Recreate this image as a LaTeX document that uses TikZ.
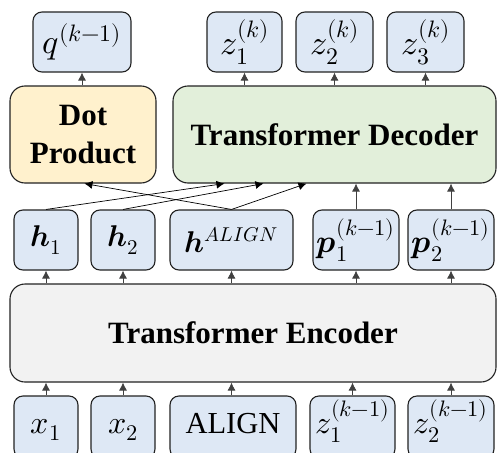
\documentclass[tikz,border=0pt]{standalone}
\usepackage{amsmath}
\usepackage{fontspec}
\usepackage{unicode-math}
\setmainfont{Liberation Serif}
\setmathfont{Latin Modern Math}
\usetikzlibrary{arrows.meta,calc}
\definecolor{bluefill}{HTML}{DEE8F5}
\definecolor{yellowfill}{HTML}{FFF1CD}
\definecolor{greenfill}{HTML}{E2EFDA}
\definecolor{grayfill}{HTML}{F2F2F2}
\definecolor{edge}{HTML}{222222}
\tikzset{
  sbox/.style={draw=edge, line width=1.1pt, rounded corners=9pt, fill=bluefill, minimum height=60pt, inner sep=0pt, font=\fontsize{32}{36}\selectfont},
  topfont/.style={font=\fontsize{34}{38}\selectfont},
  hfont/.style={font=\fontsize{30}{34}\selectfont},
  lowtext/.style={text height=26pt, text depth=14pt},
  bigbox/.style={draw=edge, line width=1.1pt, rounded corners=15pt, inner sep=0pt, font=\fontsize{31}{38}\selectfont\bfseries, align=center},
  arr/.style={draw=black!75, line width=0.8pt, -{Latex[length=8pt,width=8pt]}},
  thin/.style={draw=black, line width=0.7pt, -{Latex[length=8pt,width=8pt]}}
}
\begin{document}
\begin{tikzpicture}[x=1pt,y=-1pt]
\useasboundingbox (0,0) rectangle (497,452);
\begin{scope}
\clip (0,0) rectangle (497,452);
% top row
\node[sbox, topfont, minimum width=98pt] (q) at (82,42) {$q^{(k-1)}$};
\node[sbox, topfont, minimum width=75pt] (z1) at (244.5,42) {$z_1^{(k)}$};
\node[sbox, topfont, minimum width=77pt] (z2) at (334.5,42) {$z_2^{(k)}$};
\node[sbox, topfont, minimum width=77pt] (z3) at (425.5,42) {$z_3^{(k)}$};
% big boxes
\node[bigbox, fill=yellowfill, minimum width=146pt, minimum height=97pt] (dot) at (83,134.5) {Dot\\Product};
\node[bigbox, fill=greenfill, minimum width=323pt, minimum height=97pt] (dec) at (334.5,134.5) {Transformer Decoder};
% h row
\node[sbox, hfont, minimum width=64pt] (h1) at (46,240) {$\symbfit{h}_1$};
\node[sbox, hfont, minimum width=64pt] (h2) at (123,240) {$\symbfit{h}_2$};
\node[sbox, hfont, minimum width=123pt] (hA) at (231.5,240) {$\symbfit{h}^{\mbox{\fontsize{20}{22}\selectfont$ALIGN$}}$};
\node[sbox, minimum width=86pt] (p1) at (356,240) {$\symbfit{p}_1^{(k-1)}$};
\node[sbox, minimum width=86pt] (p2) at (451,240) {$\symbfit{p}_2^{(k-1)}$};
% encoder
\node[bigbox, fill=grayfill, minimum width=486pt, minimum height=98pt] (enc) at (253,333) {Transformer Encoder};
% bottom row
\node[sbox, lowtext, minimum width=64pt, minimum height=62pt] (x1) at (46,427) {$x_1$};
\node[sbox, lowtext, minimum width=64pt, minimum height=62pt] (x2) at (123,427) {$x_2$};
\node[sbox, lowtext, minimum width=126pt, minimum height=62pt, font=\fontsize{30.5}{34}\selectfont] (al) at (233,427) {ALIGN};
\node[sbox, lowtext, minimum width=85pt, minimum height=62pt] (zb1) at (352.5,427) {$z_1^{(k-1)}$};
\node[sbox, lowtext, minimum width=86pt, minimum height=62pt] (zb2) at (451,427) {$z_2^{(k-1)}$};
\end{scope}
% arrows top
\draw[arr] (dot.north -| q.south) -- (q.south);
\draw[arr] (z1.south |- dec.north) -- (z1.south);
\draw[arr] (z2.south |- dec.north) -- (z2.south);
\draw[arr] (z3.south |- dec.north) -- (z3.south);
% encoder to h row
\draw[arr] (h1.south |- enc.north) -- (h1.south);
\draw[arr] (h2.south |- enc.north) -- (h2.south);
\draw[arr] (hA.south |- enc.north) -- (hA.south);
\draw[arr] (p1.south |- enc.north) -- (p1.south);
\draw[arr] (p2.south |- enc.north) -- (p2.south);
% p to decoder
\draw[arr] (p1.north) -- (p1.north |- dec.south);
\draw[arr] (p2.north) -- (p2.north |- dec.south);
% inputs to encoder
\draw[arr] (x1.north) -- (x1.north |- enc.south);
\draw[arr] (x2.north) -- (x2.north |- enc.south);
\draw[arr] (al.north -| hA.south) -- (hA.south |- enc.south);
\draw[arr] (zb1.north) -- (zb1.north |- enc.south);
\draw[arr] (zb2.north) -- (zb2.north |- enc.south);
% crossing connectors
\coordinate (d1) at ($(dec.south west)+(52,0)$);
\coordinate (d2) at ($(dec.south west)+(91,0)$);
\coordinate (d3) at ($(dec.south west)+(134,0)$);
\coordinate (dp) at ($(dot.south west)+(75,0)$);
\draw[thin] (h1.north) -- (d1);
\draw[thin] (h2.north) -- (d2);
\draw[thin] (hA.north) -- (dp);
\draw[thin] (hA.north) -- (d3);
\end{tikzpicture}
\end{document}
